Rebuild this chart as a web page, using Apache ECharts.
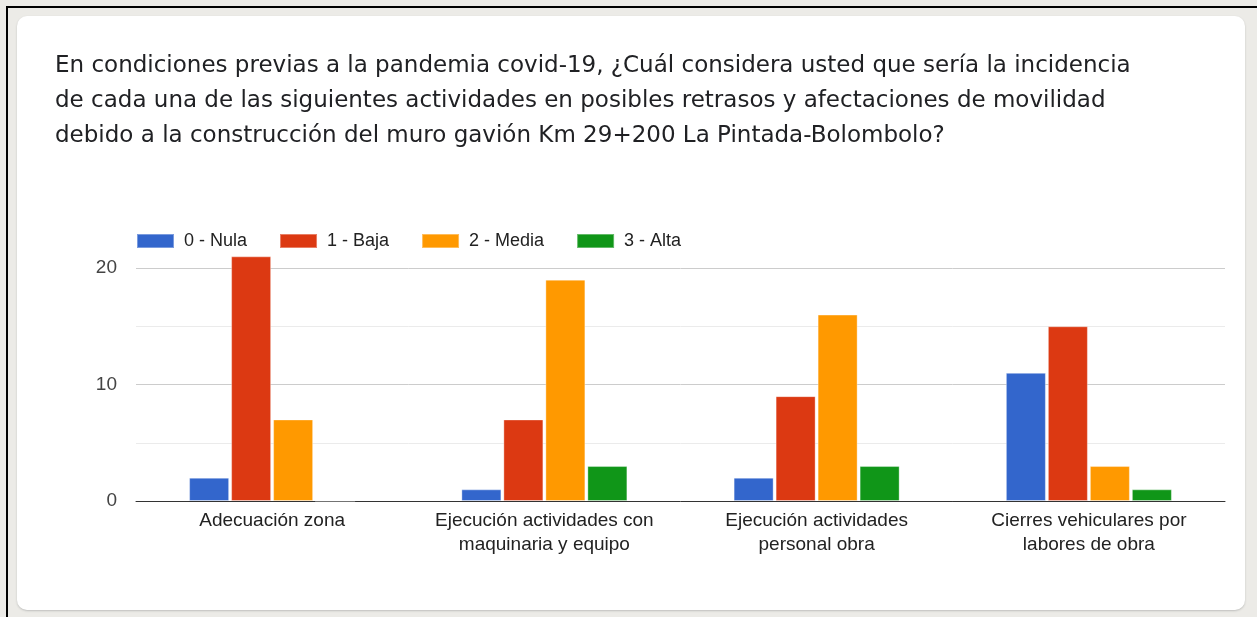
<!DOCTYPE html>
<html>
<head>
<meta charset="utf-8">
<script src="https://cdn.jsdelivr.net/npm/echarts@6/dist/echarts.min.js"></script>
<style>
html,body{margin:0;padding:0;width:1257px;height:617px;overflow:hidden;background:#ecebe7;}
#frame{position:absolute;left:6px;top:6px;width:1251px;height:611px;border-left:2px solid #000;border-top:2px solid #000;box-sizing:border-box;}
#card{position:absolute;left:17px;top:16px;width:1228px;height:594px;background:#fff;border-radius:10px;box-shadow:0 1px 2px rgba(60,64,67,0.25);}
#chart{position:absolute;left:0;top:0;width:1257px;height:617px;}
</style>
</head>
<body>
<div id="frame"></div>
<div id="card"></div>
<div id="chart"></div>
<script>
const titleText = "En condiciones previas a la pandemia covid-19, ¿Cuál considera usted que sería la incidencia\nde cada una de las siguientes actividades en posibles retrasos y afectaciones de movilidad\ndebido a la construcción del muro gavión Km 29+200 La Pintada-Bolombolo?";
const categories = [
  "Adecuación zona",
  "Ejecución actividades con\nmaquinaria y equipo",
  "Ejecución actividades\npersonal obra",
  "Cierres vehiculares por\nlabores de obra"
];
const seriesNames = ["0 - Nula", "1 - Baja", "2 - Media", "3 - Alta"];
const nula = [2, 1, 2, 11];
const baja = [21, 7, 9, 15];
const media = [7, 19, 16, 3];
const alta = [0, 3, 3, 1];
const colors = ["#3366cc", "#dc3912", "#ff9900", "#109618"];

const values = [nula, baja, media, alta];
const chart = echarts.init(document.getElementById('chart'), null, {renderer: 'canvas'});
chart.setOption({
  animation: false,
  backgroundColor: 'transparent',
  title: {
    text: titleText,
    left: 50,
    top: 44,
    textStyle: {fontFamily: 'DejaVu Sans', fontSize: 23, fontWeight: 'normal', color: '#202124', lineHeight: 35}
  },
  legend: {
    left: 131,
    top: 227,
    itemWidth: 37,
    itemHeight: 14,
    itemGap: 32,
    icon: 'rect',
    textStyle: {fontFamily: 'Liberation Sans, Arial', fontSize: 18, color: '#222', padding: [0, 0, 0, 5]},
    data: seriesNames
  },
  grid: {left: 136, right: 32, top: 268, bottom: 116, containLabel: false},
  xAxis: {
    type: 'category',
    data: categories,
    axisLine: {lineStyle: {color: '#333', width: 1}},
    axisTick: {show: false},
    axisLabel: {fontFamily: 'Liberation Sans, Arial', fontSize: 19, color: '#222', lineHeight: 24, margin: 8, interval: 0}
  },
  yAxis: {
    type: 'value',
    min: 0, max: 20, interval: 5,
    axisLine: {show: false},
    axisTick: {show: false},
    axisLabel: {
      fontFamily: 'Liberation Sans, Arial', fontSize: 19, color: '#444', margin: 19,
      formatter: v => (v % 10 === 0 ? String(v) : '')
    },
    splitLine: {lineStyle: {color: ['#cccccc', '#ebebeb'], width: 1}}
  },
  series: seriesNames.map((name, i) => ({
    name: name,
    type: 'bar',
    data: values[i],
    barWidth: 40,
    barGap: '5%',
    clip: false,
    itemStyle: {color: colors[i], borderColor: 'rgba(255,255,255,0.35)', borderWidth: 1}
  }))
});
</script>
</body>
</html>
